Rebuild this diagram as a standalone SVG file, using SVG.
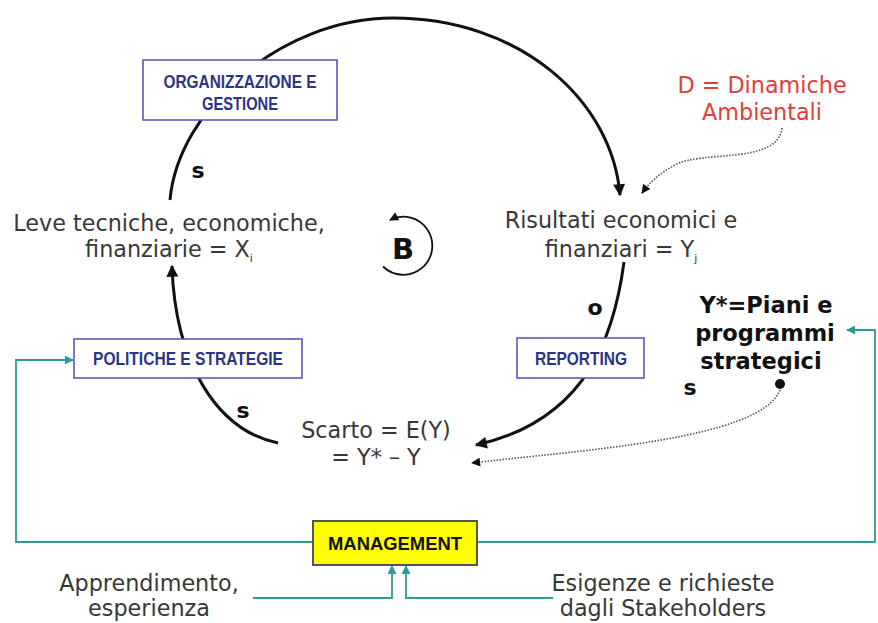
<svg xmlns="http://www.w3.org/2000/svg" width="878" height="623" viewBox="0 0 878 623">
  <style>
    .txt { font-family: "DejaVu Sans", Verdana, sans-serif; font-size: 22.3px; fill: #383838; }
    .bold { font-family: "DejaVu Sans", Verdana, sans-serif; font-weight: bold; fill: #111111; }
    .box { fill: #ffffff; stroke: #5a5ab4; stroke-width: 1.6; }
    .boxtxt { font-family: "Liberation Sans", Arial, sans-serif; font-weight: bold; font-size: 18px; fill: #2b3584; }
    .loop { fill: none; stroke: #111111; stroke-width: 3; }
    .dotted { fill: none; stroke: #555555; stroke-width: 1.6; stroke-dasharray: 1.5 1.5; }
    .teal { fill: none; stroke: #2e9c94; stroke-width: 1.8; }
  </style>
  <defs>
    <marker id="arrowBlack" viewBox="0 0 10 10" refX="9" refY="5" markerWidth="14" markerHeight="12" markerUnits="userSpaceOnUse" orient="auto">
      <path d="M0,0 L10,5 L0,10 z" fill="#111111"/>
    </marker>
    <marker id="arrowSmall" viewBox="0 0 10 10" refX="9" refY="5" markerWidth="10" markerHeight="9" markerUnits="userSpaceOnUse" orient="auto">
      <path d="M0,0 L10,5 L0,10 z" fill="#111111"/>
    </marker>
    <marker id="arrowTeal" viewBox="0 0 10 10" refX="9" refY="5" markerWidth="11" markerHeight="9" markerUnits="userSpaceOnUse" orient="auto">
      <path d="M0,0 L10,5 L0,10 z" fill="#2e9c94"/>
    </marker>
  </defs>

  <rect width="878" height="623" fill="#ffffff"/>

  <!-- connectors -->
  <g id="connectors">
    <!-- main balancing loop -->
    <path class="loop" d="M170,200 C178,110 280,18 393,18 C520,18 612,100 620,195" marker-end="url(#arrowBlack)"/>
    <path class="loop" d="M624,262 C615,330 590,420 476,445" marker-end="url(#arrowBlack)"/>
    <path class="loop" d="M278,443 C215,430 175,360 172,266" marker-end="url(#arrowBlack)"/>
    <!-- external influences -->
    <path class="dotted" d="M782,128 C778,165 700,150 675,165 C660,173 650,182 642,193" marker-end="url(#arrowSmall)"/>
    <path class="dotted" d="M780,390 C760,440 580,450 472,463" marker-end="url(#arrowSmall)"/>
    <!-- management feedback lines -->
    <path class="teal" d="M313,542 H16 V360 H73" marker-end="url(#arrowTeal)"/>
    <path class="teal" d="M477,542 H875 V330 H847" marker-end="url(#arrowTeal)"/>
    <path class="teal" d="M253,598 H392 V566" marker-end="url(#arrowTeal)"/>
    <path class="teal" d="M553,598 H406 V566" marker-end="url(#arrowTeal)"/>
  </g>

  <!-- loop polarity marker -->
  <g id="loop-b">
    <path d="M383,266.5 A29,29 0 1,0 390,220" fill="none" stroke="#111111" stroke-width="1.8" marker-end="url(#arrowSmall)"/>
    <text x="403" y="259" text-anchor="middle" class="bold" font-size="29">B</text>
  </g>

  <g id="organizzazione">
    <rect class="box" x="143" y="60" width="194" height="60"/>
    <text class="boxtxt" x="240" y="88" text-anchor="middle" textLength="153" lengthAdjust="spacingAndGlyphs">ORGANIZZAZIONE E</text>
    <text class="boxtxt" x="240" y="110" text-anchor="middle" textLength="76" lengthAdjust="spacingAndGlyphs">GESTIONE</text>
  </g>

  <g id="politiche">
    <rect class="box" x="74" y="339" width="228" height="39"/>
    <text class="boxtxt" x="188" y="365" text-anchor="middle" textLength="190" lengthAdjust="spacingAndGlyphs">POLITICHE E STRATEGIE</text>
  </g>

  <g id="reporting">
    <rect class="box" x="517" y="338" width="127" height="40"/>
    <text class="boxtxt" x="581" y="365" text-anchor="middle" textLength="92" lengthAdjust="spacingAndGlyphs">REPORTING</text>
  </g>

  <g id="management">
    <rect x="313" y="521" width="164" height="44" fill="#ffff00" stroke="#555555" stroke-width="2"/>
    <text x="395" y="550" text-anchor="middle" font-family="Liberation Sans, Arial, sans-serif" font-weight="bold" font-size="19" fill="#111111" textLength="134" lengthAdjust="spacingAndGlyphs">MANAGEMENT</text>
  </g>

  <g id="leve">
    <text class="txt" x="169" y="231" text-anchor="middle">Leve tecniche, economiche,</text>
    <text class="txt" x="169" y="257" text-anchor="middle">finanziarie = X<tspan font-size="11" dy="5">i</tspan></text>
  </g>

  <g id="risultati">
    <text class="txt" x="621" y="228" text-anchor="middle">Risultati economici e</text>
    <text class="txt" x="621" y="257" text-anchor="middle">finanziari = Y<tspan font-size="11" dy="5">j</tspan></text>
  </g>

  <g id="dinamiche">
    <text class="txt" x="762" y="93" text-anchor="middle" style="fill:#e0403a">D = Dinamiche</text>
    <text class="txt" x="762" y="120" text-anchor="middle" style="fill:#e0403a">Ambientali</text>
  </g>

  <g id="scarto">
    <text class="txt" x="376" y="438" text-anchor="middle">Scarto = E(Y)</text>
    <text class="txt" x="376" y="465" text-anchor="middle">= Y* – Y</text>
  </g>

  <g id="piani">
    <text class="bold" x="766" y="313" text-anchor="middle" font-size="22.5">Y*=Piani e</text>
    <text class="bold" x="765" y="341" text-anchor="middle" font-size="22.5">programmi</text>
    <text class="bold" x="761" y="369" text-anchor="middle" font-size="22.5">strategici</text>
    <circle cx="780" cy="384" r="5" fill="#111111"/>
  </g>

  <g id="polarity-labels">
    <text class="bold" x="198" y="178" text-anchor="middle" font-size="22">s</text>
    <text class="bold" x="243" y="418" text-anchor="middle" font-size="22">s</text>
    <text class="bold" x="595" y="315" text-anchor="middle" font-size="22">o</text>
    <text class="bold" x="690" y="395" text-anchor="middle" font-size="22">s</text>
  </g>

  <g id="inputs">
    <text class="txt" x="149" y="591" text-anchor="middle">Apprendimento,</text>
    <text class="txt" x="149" y="616" text-anchor="middle">esperienza</text>
    <text class="txt" x="663" y="591" text-anchor="middle">Esigenze e richieste</text>
    <text class="txt" x="663" y="616" text-anchor="middle">dagli Stakeholders</text>
  </g>
</svg>
